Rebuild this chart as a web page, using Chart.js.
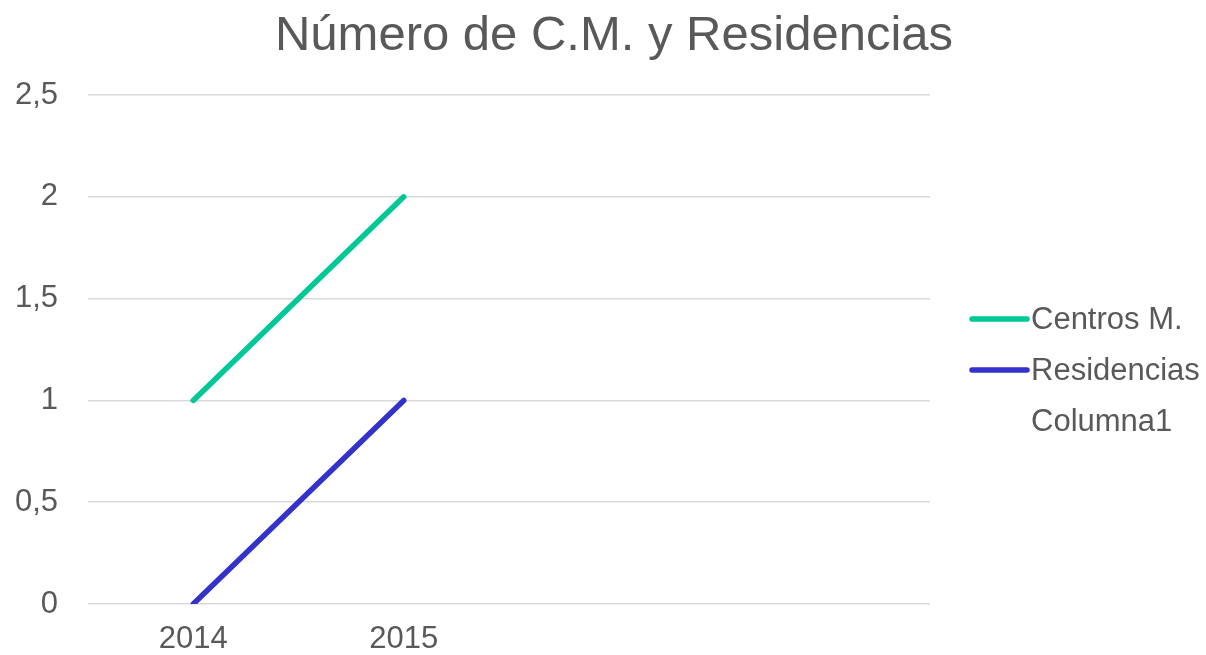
<!DOCTYPE html>
<html>
<head>
<meta charset="utf-8">
<script src="https://cdn.jsdelivr.net/npm/chart.js@4"></script>
<style>
  html, body { margin: 0; padding: 0; background: #fff; }
  #wrap { width: 1206px; height: 655px; position: relative; }
</style>
</head>
<body>
<div id="wrap"><canvas id="chart"></canvas></div>
<script>
const years = ["2014", "2015", "", ""];
const centros = [1, 2, null, null];
const residencias = [0, 1, null, null];
const columna1 = [null, null, null, null];

const chartTitle = "Número de C.M. y Residencias";

const TEXT = "#595959";
const FONT = "'Liberation Sans', Arial, sans-serif";

// title over the whole picture + legend on the right, line sample touching the text
const decorations = {
  id: "decorations",
  afterDraw(chart) {
    const ctx = chart.ctx;
    ctx.save();
    ctx.fillStyle = TEXT;
    ctx.font = "49px " + FONT;
    ctx.textAlign = "center";
    ctx.textBaseline = "alphabetic";
    ctx.fillText(chartTitle, 614, 50);

    const x0 = 972, x1 = 1027, textX = 1031;
    let y = 319;
    ctx.font = "31px " + FONT;
    ctx.textAlign = "left";
    ctx.textBaseline = "middle";
    chart.data.datasets.forEach((ds) => {
      if (ds.borderColor !== "transparent") {
        ctx.strokeStyle = ds.borderColor;
        ctx.lineWidth = 5.5;
        ctx.lineCap = "round";
        ctx.beginPath();
        ctx.moveTo(x0, y);
        ctx.lineTo(x1, y);
        ctx.stroke();
      }
      ctx.fillText(ds.label, textX, y + 1);
      y += 51;
    });
    ctx.restore();
  },
};

new Chart(document.getElementById("chart"), {
  type: "line",
  data: {
    labels: years,
    datasets: [
      { label: "Centros M.", data: centros, borderColor: "#00C896" },
      { label: "Residencias", data: residencias, borderColor: "#3333CC" },
      { label: "Columna1", data: columna1, borderColor: "transparent" },
    ],
  },
  options: {
    responsive: true,
    maintainAspectRatio: false,
    animation: false,
    elements: {
      point: { radius: 0 },
      line: { borderWidth: 5.5, borderCapStyle: "round", tension: 0 },
    },
    layout: { padding: { left: 0, right: 276, top: 95, bottom: 0 } },
    plugins: {
      legend: { display: false },
      tooltip: { enabled: false },
      title: { display: false },
    },
    scales: {
      x: {
        offset: true,
        afterFit(scale) { scale.height = 51; },
        grid: { display: false, drawTicks: false },
        border: { display: false },
        ticks: { color: TEXT, font: { family: FONT, size: 31 }, padding: 17, maxRotation: 0 },
      },
      y: {
        min: 0,
        max: 2.5,
        afterFit(scale) { scale.width = 88; },
        grid: { color: "#d9d9d9", lineWidth: 1.5, drawTicks: false },
        border: { display: false },
        ticks: {
          stepSize: 0.5,
          color: TEXT,
          font: { family: FONT, size: 31 },
          padding: 30,
          callback: (v) => v.toString().replace(".", ","),
        },
      },
    },
  },
  plugins: [decorations],
});
</script>
</body>
</html>
